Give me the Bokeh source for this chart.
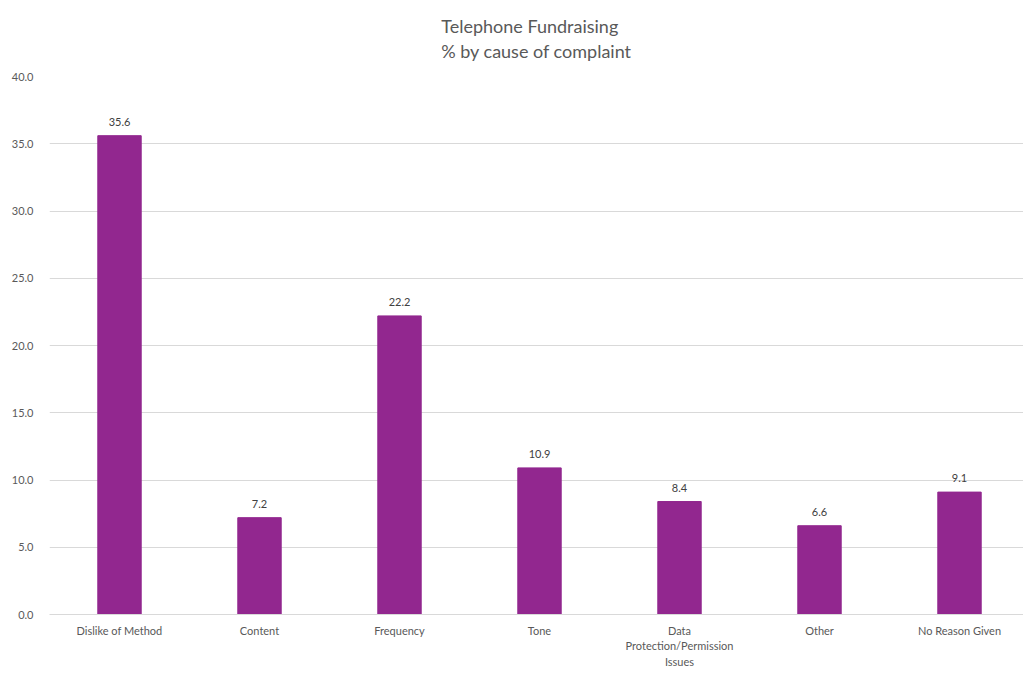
from bokeh.plotting import figure
from bokeh.models import Range1d, FixedTicker, Title, ColumnDataSource, NumeralTickFormatter
from bokeh.core.properties import value
from bokeh.embed import file_html
from bokeh.resources import INLINE

title_lines = ["Telephone Fundraising", "% by cause of complaint"]
categories = ["Dislike of Method", "Content", "Frequency", "Tone",
              "Data\nProtection/Permission\nIssues", "Other", "No Reason Given"]
values = [35.6, 7.2, 22.2, 10.9, 8.4, 6.6, 9.1]
y_ticks = [0, 5, 10, 15, 20, 25, 30, 35, 40]

FONT = "Lato"
BAR = "#92278F"
GRID = "#d9d9d9"
TXT = "#595959"

idx = list(range(len(categories)))
src = ColumnDataSource(dict(x=idx, top=values, label=[f"{v:.1f}" for v in values]))

p = figure(width=1023, height=673, output_backend="svg", toolbar_location=None,
           x_range=Range1d(-0.5, -0.5 + 974 / 140), y_range=Range1d(0, 40),
           min_border_left=49, min_border_right=0, min_border_bottom=59, min_border_top=76)
p.outline_line_color = None
p.background_fill_color = "white"
p.border_fill_color = "white"

p.add_layout(Title(text="\n".join(title_lines), align="center", vertical_align="top",
                   text_font=FONT, text_font_size="18px", text_font_style="normal",
                   text_color=TXT, text_line_height=1.17, standoff=24), "above")

p.vbar(x="x", top="top", width=0.31, source=src, color=BAR)
p.text(x="x", y="top", text="label", source=src, text_align="center",
       text_baseline="bottom", y_offset=-10, text_font=value(FONT),
       text_font_size="11px", text_color="#404040")

p.xaxis.ticker = FixedTicker(ticks=idx)
p.xaxis.major_label_overrides = {i: c for i, c in zip(idx, categories)}
p.xaxis.major_tick_line_color = None
p.xaxis.minor_tick_line_color = None
p.xaxis.axis_line_color = GRID
p.xaxis.major_label_text_font = FONT
p.xaxis.major_label_text_font_size = "11px"
p.xaxis.major_label_text_color = TXT
p.xaxis.major_label_standoff = 3

p.yaxis.ticker = FixedTicker(ticks=y_ticks)
p.yaxis.formatter = NumeralTickFormatter(format="0.0")
p.yaxis.major_tick_line_color = None
p.yaxis.minor_tick_line_color = None
p.yaxis.axis_line_color = None
p.yaxis.major_label_text_font = FONT
p.yaxis.major_label_text_font_size = "11px"
p.yaxis.major_label_text_color = TXT
p.yaxis.major_label_standoff = 10

p.xgrid.grid_line_color = None
p.ygrid.grid_line_color = GRID
p.ygrid.ticker = FixedTicker(ticks=y_ticks)

open("out.html", "w").write(file_html(p, INLINE))
